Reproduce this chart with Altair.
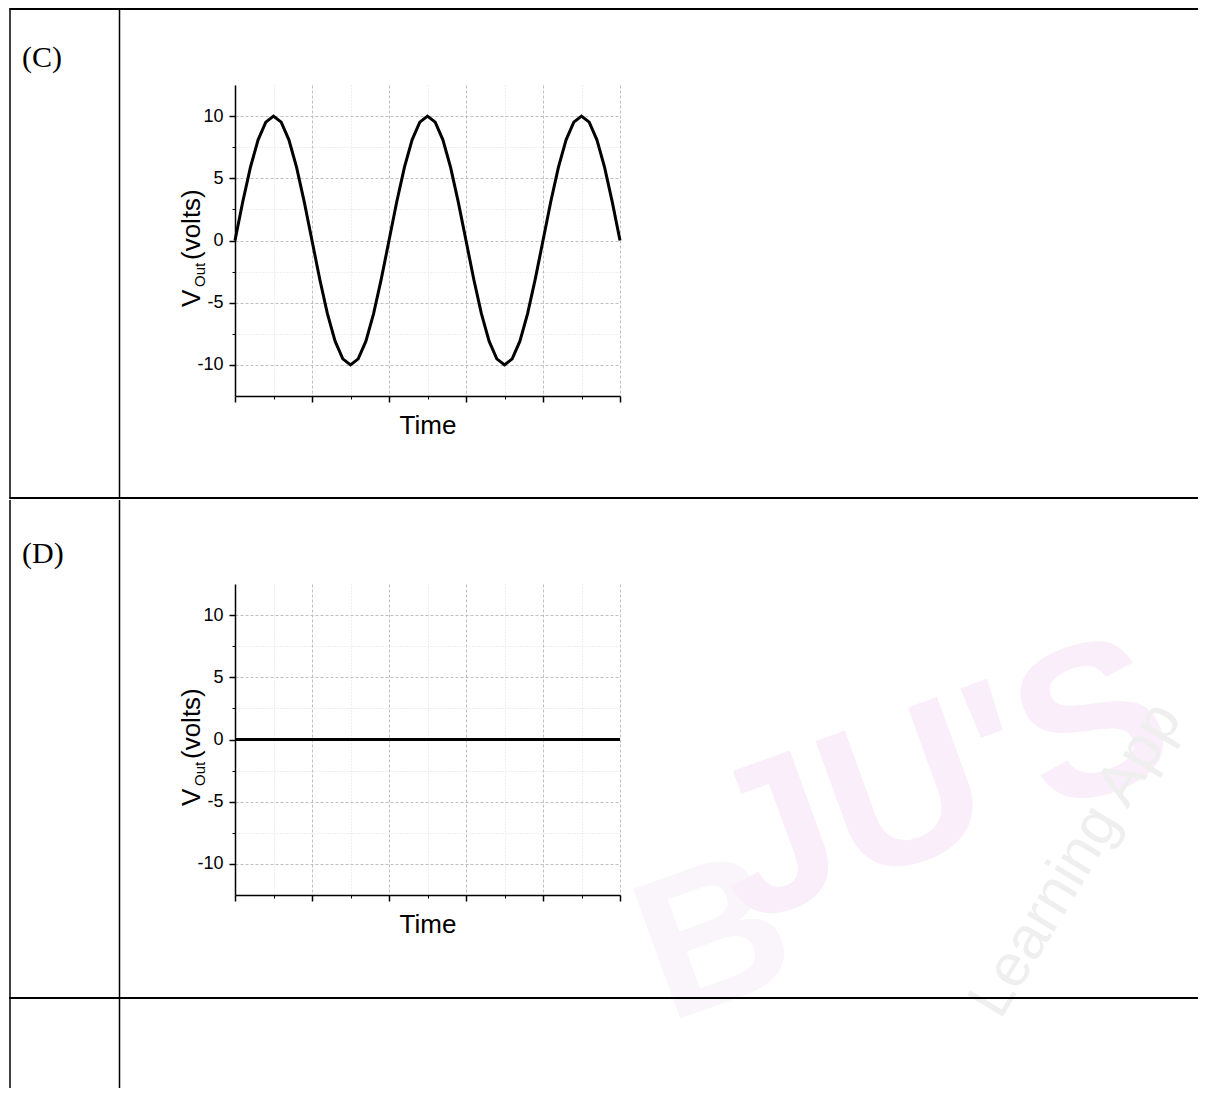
import altair as alt
import pandas as pd

# ---- data ----
time_c = [0.0, 0.1, 0.2, 0.3, 0.4, 0.5, 0.6, 0.7, 0.8, 0.9,
          1.0, 1.1, 1.2, 1.3, 1.4, 1.5, 1.6, 1.7, 1.8, 1.9,
          2.0, 2.1, 2.2, 2.3, 2.4, 2.5, 2.6, 2.7, 2.8, 2.9,
          3.0, 3.1, 3.2, 3.3, 3.4, 3.5, 3.6, 3.7, 3.8, 3.9,
          4.0, 4.1, 4.2, 4.3, 4.4, 4.5, 4.6, 4.7, 4.8, 4.9, 5.0]
vout_c = [0, 3.09, 5.88, 8.09, 9.51, 10, 9.51, 8.09, 5.88, 3.09,
          0, -3.09, -5.88, -8.09, -9.51, -10, -9.51, -8.09, -5.88, -3.09,
          0, 3.09, 5.88, 8.09, 9.51, 10, 9.51, 8.09, 5.88, 3.09,
          0, -3.09, -5.88, -8.09, -9.51, -10, -9.51, -8.09, -5.88, -3.09,
          0, 3.09, 5.88, 8.09, 9.51, 10, 9.51, 8.09, 5.88, 3.09, 0]
time_d = [0.0, 5.0]
vout_d = [0, 0]

y_major = [-10, -5, 0, 5, 10]
y_minor = [-7.5, -2.5, 2.5, 7.5]
x_major = [0, 1, 2, 3, 4, 5]
x_minor = [0.5, 1.5, 2.5, 3.5, 4.5]
x_domain = [0, 5]
y_domain = [-12.5, 12.5]

panel_labels = ["(C)", "(D)"]
x_title = "Time"
y_title_main = "V"
y_title_sub = "Out"
y_title_unit = "(volts)"
watermark = ["JU'S", "Learning App", "B"]

W, H = 385, 311
SANS = "Liberation Sans"
SERIF = "Liberation Serif"
one = pd.DataFrame({"k": [0]})


def rule(x, y, x2=None, y2=None, w=1.5):
    enc = dict(x=alt.value(x), y=alt.value(y))
    if x2 is not None:
        enc["x2"] = alt.value(x2)
    if y2 is not None:
        enc["y2"] = alt.value(y2)
    return alt.Chart(one).mark_rule(color="black", strokeWidth=w).encode(**enc)


def txt(s, x, y, size, font, angle=0, color="black", align="left",
        baseline="alphabetic", weight="normal"):
    return alt.Chart(one).mark_text(
        text=s, font=font, fontSize=size, align=align, fontWeight=weight,
        baseline=baseline, color=color, angle=angle
    ).encode(x=alt.value(x), y=alt.value(y))


def panel(t, v, label, label_y, top, bottom, hline_y, extra_back=(), extra_front=()):
    df = pd.DataFrame({"t": t, "v": v})
    xs = alt.Scale(domain=x_domain, nice=False, zero=False)
    ys = alt.Scale(domain=y_domain, nice=False, zero=False)

    minor = alt.Chart(df).mark_line(opacity=0).encode(
        x=alt.X("t:Q", scale=xs, axis=alt.Axis(
            orient="bottom", values=x_minor, labels=False, domain=False,
            tickSize=3, tickColor="black", tickWidth=1,
            grid=True, gridColor="#dedede", gridDash=[1, 2], gridWidth=1,
            title=None)),
        y=alt.Y("v:Q", scale=ys, axis=alt.Axis(
            orient="left", values=y_minor, labels=False, domain=False,
            tickSize=3, tickColor="black", tickWidth=1,
            grid=True, gridColor="#dedede", gridDash=[1, 2], gridWidth=1,
            title=None)),
    )
    major = alt.Chart(df).mark_line(color="black", strokeWidth=3).encode(
        x=alt.X("t:Q", scale=xs, axis=alt.Axis(
            orient="bottom", values=x_major, labels=False,
            domainColor="black", domainWidth=1.5,
            tickSize=6, tickColor="black", tickWidth=1.5,
            grid=True, gridColor="#bfbfbf", gridDash=[3, 2], gridWidth=1,
            title=x_title, titleFont=SANS, titleFontSize=26,
            titleFontWeight="normal", titleColor="black", titlePadding=10)),
        y=alt.Y("v:Q", scale=ys, axis=alt.Axis(
            orient="left", values=y_major, labelExpr="'' + datum.value",
            labelFont=SANS, labelFontSize=18, labelColor="black",
            labelPadding=6, labelAngle=0,
            domainColor="black", domainWidth=1.5,
            tickSize=6, tickColor="black", tickWidth=1.5,
            grid=True, gridColor="#bfbfbf", gridDash=[3, 2], gridWidth=1,
            title=None)),
    )

    x_left, x_col, x_right = -225, -115.5, 963
    deco = [
        rule(x_left, top, y2=bottom, w=1.5),
        rule(x_col, top, y2=bottom, w=1.5),
        rule(x_left - 0.75, hline_y, x2=x_right, w=2),
    ]
    texts = [
        txt(label, -213, label_y, 30, SERIF),
        txt(y_title_main, -35, 222, 26, SANS, angle=270),
        txt(y_title_sub, -30, 202, 15, SANS, angle=270),
        txt(y_title_unit, -35, 175, 26, SANS, angle=270),
    ]
    return alt.layer(*extra_back, minor, major, *deco, *texts, *extra_front).resolve_axis(
        x="independent", y="independent"
    ).properties(width=W, height=H)


# panel C: includes the table's top border
top_border = rule(-225.75, -76, x2=963, w=2)
pc = panel(time_c, vout_c, panel_labels[0], -18, -76, 413, 413,
           extra_front=[top_border])

# faint watermark behind panel D (positions relative to D's plot origin)
wm = [
    txt(watermark[2], 480, 358, 200, SANS, angle=340, color="#faf4fb",
        align="center", baseline="middle", weight="bold"),
    txt(watermark[0], 705, 200, 215, SANS, angle=340, color="#f9eef9",
        align="center", baseline="middle", weight="bold"),
    txt(watermark[1], 841, 276, 60, SANS, angle=301, color="#efefef",
        align="center", baseline="middle"),
]
pd_ = panel(time_d, vout_d, panel_labels[1], -21, -84, 504, 414,
            extra_back=wm)

chart = alt.vconcat(pc, pd_, spacing=0).properties(padding=0).configure_view(
    strokeWidth=0
)

chart.save("out.html", embed_options={"renderer": "svg", "actions": False})
